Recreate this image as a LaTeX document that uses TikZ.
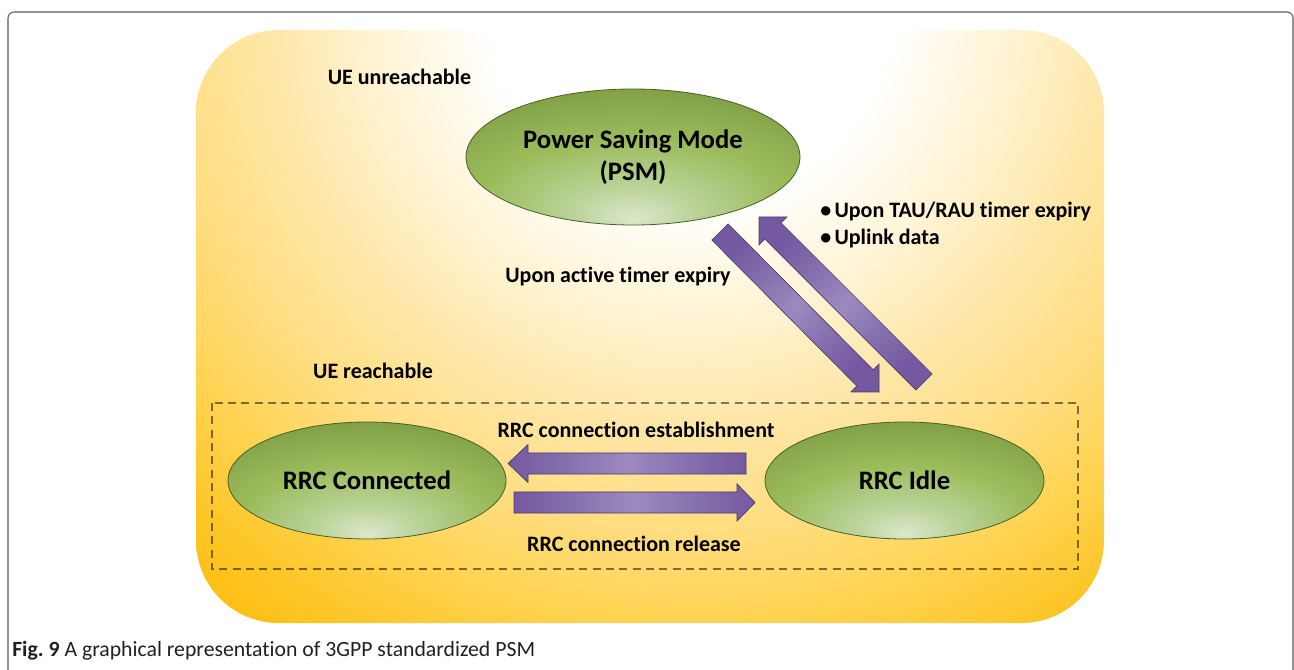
\documentclass[tikz,border=0pt]{standalone}
\usepackage{fontspec}
\setmainfont{Carlito}[Ligatures={NoCommon}]
\usetikzlibrary{shapes.geometric,calc}

\definecolor{bg1}{HTML}{FFF4D6}
\definecolor{bg2}{HTML}{FEE5A2}
\definecolor{bg3}{HTML}{FFDD80}
\definecolor{bg4}{HTML}{FFD350}
\definecolor{bg5}{HTML}{FDC423}
\definecolor{bg6}{HTML}{FCBE10}
\definecolor{e0}{HTML}{DCE8CC}
\definecolor{e1}{HTML}{BBD39A}
\definecolor{e2}{HTML}{9CBC5C}
\definecolor{e3}{HTML}{85A54A}
\definecolor{e4}{HTML}{6E8B38}
\definecolor{ellborder}{HTML}{4A5E26}
\definecolor{arrD}{HTML}{7459A0}
\definecolor{arrM}{HTML}{8570AE}
\definecolor{arrL}{HTML}{9C8ABF}
\definecolor{arrborder}{HTML}{4C3A6A}
\definecolor{framecol}{HTML}{5A5A5A}
\definecolor{captext}{HTML}{231F20}

\pgfdeclareradialshading{bgshade}{\pgfpoint{0bp}{0bp}}{%
  color(0bp)=(white); color(6.5bp)=(white); color(10bp)=(bg1);
  color(14bp)=(bg2); color(17bp)=(bg3); color(20bp)=(bg4);
  color(23bp)=(bg5); color(25bp)=(bg6); color(50bp)=(bg6)}
\pgfdeclareradialshading{ellshade}{\pgfpoint{0bp}{-23bp}}{%
  color(0bp)=(e0); color(9bp)=(e1); color(22bp)=(e2);
  color(34bp)=(e3); color(48bp)=(e4); color(70bp)=(e4)}
\pgfdeclarehorizontalshading{arrshade}{100bp}{%
  color(0bp)=(arrD); color(25bp)=(arrD); color(37bp)=(arrM);
  color(50bp)=(arrL); color(63bp)=(arrM); color(75bp)=(arrD); color(100bp)=(arrD)}

\tikzset{
  state/.style={ellipse, draw=ellborder, line width=0.6pt, shading=ellshade,
    inner sep=0pt, font=\bfseries\fontsize{20}{24.5}\selectfont, align=center},
  lbl/.style={font=\bfseries\fontsize{16.5}{20}\selectfont, inner sep=0pt},
  blockarr/.style={draw=arrborder, line width=0.5pt, shading=arrshade, line join=miter},
  region/.style={draw=black, draw opacity=0.5, line width=0.9pt, dash pattern=on 6pt off 4pt},
}

\newcommand\blockarrow[6]{% #1 start, #2 end, #3 body half, #4 head half, #5 head length, #6 shading angle
  \coordinate (ban) at ($(#2)!#5!(#1)$);
  \path[blockarr, shading angle=#6] ($(#1)!#3!90:(#2)$) -- ($(ban)!#3!90:(#2)$)
    -- ($(ban)!#4!90:(#2)$) -- (#2) -- ($(ban)!#4!-90:(#2)$)
    -- ($(ban)!#3!-90:(#2)$) -- ($(#1)!#3!-90:(#2)$) -- cycle;
}

\begin{document}
\begin{tikzpicture}[x=0.75pt,y=-0.75pt]
\useasboundingbox (0,0) rectangle (1294,670);

% outer frame
\draw[framecol, line width=0.8pt, rounded corners=4.5pt] (8,672) -- (8,12) -- (1293,12) -- (1293,672);

% background
\begin{scope}
  \clip[rounded corners=62pt] (196,30) rectangle (1104,623);
  \shade[shading=bgshade] (690,0) circle (780);
\end{scope}

% dashed region
\draw[region] (212,403) rectangle (1078,569);

% states
\node[state, minimum width=250.5pt, minimum height=102pt] (psm) at (633,157) {Power Saving Mode\\(PSM)};
\node[state, minimum width=208.5pt, minimum height=87.75pt] (conn) at (367,480.5) {RRC Connected};
\node[state, minimum width=209.25pt, minimum height=87.75pt] (idle) at (904.5,480.5) {RRC Idle};

% arrow end points
\coordinate (estS) at (746,463.5);
\coordinate (estE) at (508,463.5);
\coordinate (relS) at (514,502.5);
\coordinate (relE) at (755,502.5);
\coordinate (downS) at (720,232);
\coordinate (downE) at (879,392);
\coordinate (upS) at (924,382);
\coordinate (upE) at (759,217);

\blockarrow{estS}{estE}{7.9pt}{14.25pt}{15pt}{0}
\blockarrow{relS}{relE}{7.9pt}{14pt}{13.5pt}{0}
\blockarrow{downS}{downE}{8.6pt}{14.85pt}{14.85pt}{-45}
\blockarrow{upS}{upE}{8.6pt}{14.85pt}{14.85pt}{-45}

% labels
\node[lbl] (unreach) at (399.5,77) {UE unreachable};
\node[lbl] (reach) at (373,371) {UE reachable};
\node[lbl] (activet) at (618,277) {Upon active timer expiry};
\node[lbl, anchor=west] (tau) at (820,212) {\textbullet\hspace{2.5pt}Upon TAU/RAU timer expiry};
\node[lbl, anchor=west] (uplink) at (820,239) {\textbullet\hspace{2.5pt}Uplink data};
\node[lbl] (estlbl) at (636,430) {RRC connection establishment};
\node[lbl] (rellbl) at (634,544) {RRC connection release};

% caption
\node[anchor=base west, inner sep=0pt, text=captext, font=\fontsize{16.3}{19}\selectfont] (caption) at (12,656.5)
  {\frenchspacing\textbf{Fig.\ 9} A graphical representation of 3GPP standardized PSM};
\end{tikzpicture}
\end{document}
